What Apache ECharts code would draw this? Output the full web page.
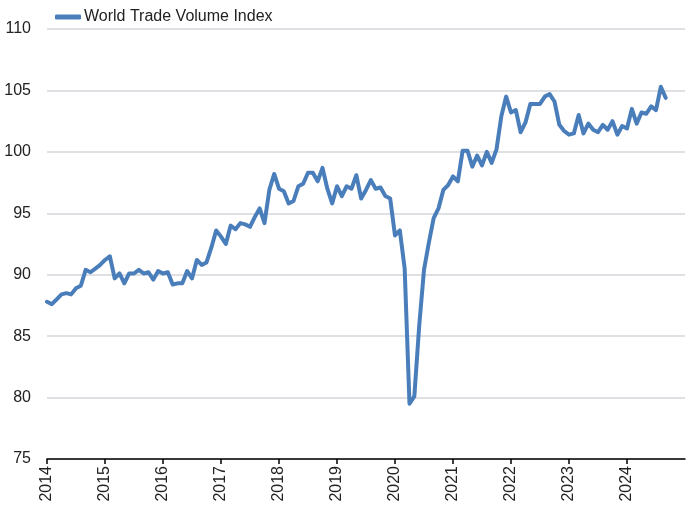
<!DOCTYPE html>
<html>
<head>
<meta charset="utf-8">
<script src="https://cdn.jsdelivr.net/npm/echarts@6/dist/echarts.min.js"></script>
<style>
html,body{margin:0;padding:0;background:#fff;}
#chart{width:700px;height:508px;}
</style>
</head>
<body>
<div id="chart"></div>
<script>
// Monthly World Trade Volume Index, Jan 2014 onwards
var seriesName = "World Trade Volume Index";
var startYear = 2014;
var endYear = 2025;
var v2014 = [87.8, 87.6, 88.0, 88.4, 88.5, 88.4, 88.9, 89.1, 90.4, 90.2, 90.5, 90.8];
var v2015 = [91.2, 91.5, 89.7, 90.1, 89.3, 90.1, 90.1, 90.4, 90.1, 90.2, 89.6, 90.3];
var v2016 = [90.1, 90.2, 89.2, 89.3, 89.3, 90.3, 89.7, 91.2, 90.8, 91.0, 92.2, 93.6];
var v2017 = [93.1, 92.5, 94.0, 93.7, 94.2, 94.1, 93.9, 94.7, 95.4, 94.2, 96.9, 98.2];
var v2018 = [97.0, 96.8, 95.8, 96.0, 97.2, 97.4, 98.3, 98.3, 97.6, 98.7, 97.0, 95.8];
var v2019 = [97.2, 96.4, 97.2, 97.0, 98.1, 96.2, 96.9, 97.7, 97.0, 97.1, 96.4, 96.2];
var v2020 = [93.2, 93.6, 90.5, 79.5, 80.1, 85.8, 90.4, 92.6, 94.6, 95.4, 96.9, 97.3];
var v2021 = [98.0, 97.6, 100.1, 100.1, 98.8, 99.7, 98.9, 100.0, 99.1, 100.2, 102.9, 104.5];
var v2022 = [103.2, 103.4, 101.6, 102.4, 103.9, 103.9, 103.9, 104.5, 104.7, 104.1, 102.2, 101.7];
var v2023 = [101.4, 101.5, 103.0, 101.5, 102.3, 101.8, 101.6, 102.2, 101.8, 102.5, 101.4, 102.1];
var v2024 = [101.9, 103.5, 102.3, 103.2, 103.1, 103.7, 103.4, 105.3, 104.4];
var yTicks = [75, 80, 85, 90, 95, 100, 105, 110];

var values = [].concat(v2014, v2015, v2016, v2017, v2018, v2019, v2020, v2021, v2022, v2023, v2024);
var data = values.map(function (v, i) { return [i, v]; });
var totalMonths = (endYear - startYear) * 12;

var chart = echarts.init(document.getElementById('chart'), null, {renderer: 'canvas'});
var font = "'Liberation Sans', Arial, sans-serif";
chart.setOption({
  animation: false,
  backgroundColor: '#ffffff',
  textStyle: {fontFamily: font},
  legend: {
    left: 50, top: 4,
    icon: 'roundRect',
    itemWidth: 26, itemHeight: 5,
    textStyle: {fontSize: 16, color: '#222222', fontFamily: font, padding: [0, 0, 0, -2]},
    data: [seriesName]
  },
  grid: {left: 47, right: 15, top: 29, bottom: 49, containLabel: false},
  xAxis: {
    type: 'value',
    min: 0, max: totalMonths, interval: 12,
    axisLine: {show: true, lineStyle: {color: '#000000', width: 1.5}},
    axisTick: {show: true, length: 5, lineStyle: {color: '#000000', width: 1.5}},
    splitLine: {show: false},
    axisLabel: {
      rotate: 90, margin: 7, fontSize: 16, color: '#222222', fontFamily: font,
      showMaxLabel: false,
      formatter: function (v) { return v < totalMonths ? String(startYear + v / 12) : ''; }
    }
  },
  yAxis: {
    type: 'value',
    min: yTicks[0], max: yTicks[yTicks.length - 1], interval: 5,
    axisLine: {show: false},
    axisTick: {show: false},
    splitLine: {show: true, lineStyle: {color: '#d3d6db', width: 1.5}},
    axisLabel: {fontSize: 16, color: '#222222', margin: 16, fontFamily: font}
  },
  series: [{
    name: seriesName,
    type: 'line',
    data: data,
    symbol: 'none',
    lineStyle: {color: '#4a7ebb', width: 4, cap: 'round', join: 'round'},
    itemStyle: {color: '#4a7ebb'},
    z: 3
  }]
});
</script>
</body>
</html>
